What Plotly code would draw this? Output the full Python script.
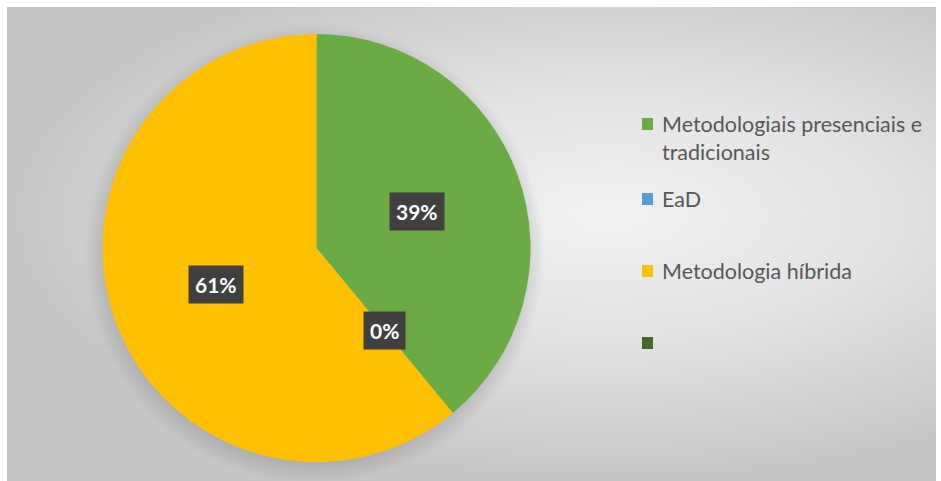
import math
import plotly.graph_objects as go

# Survey answers: share of respondents per teaching methodology
categories = ["Metodologiais presenciais e tradicionais", "EaD", "Metodologia híbrida", " "]
legend_labels = ["Metodologiais presenciais e<br>tradicionais", "EaD", "Metodologia híbrida", ""]
values = [39, 0, 61, 0]
colors = ["#6BAB45", "#5B9BD5", "#FFC000", "#43682B"]

W, H = 941, 481
# canvas frame (pixel units)
FRAME_X0, FRAME_X1, FRAME_Y0, FRAME_Y1 = 7, 936, 7, 481
# pie geometry (pixel units)
PIE_CX, PIE_CY, PIE_R = 316.5, 248, 214

fig = go.Figure()

# soft radial gradient background
gcx, gcy = 610, 215
hw, hh = gcx - FRAME_X0, FRAME_Y1 - gcy
fig.add_trace(go.Scatter(
    x=[gcx - hw, gcx + hw, gcx + hw, gcx - hw, gcx - hw],
    y=[gcy - hh, gcy - hh, gcy + hh, gcy + hh, gcy - hh],
    mode="lines", line=dict(width=0), fill="toself",
    fillgradient=dict(type="radial",
                      colorscale=[[0, "#f1f1f1"], [0.45, "#e3e3e3"], [1, "#c6c6c6"]]),
    hoverinfo="skip", showlegend=False,
))

# soft shadow under the pie
n = 180
sr = PIE_R + 16
sx = [PIE_CX - 2 + sr * math.cos(2 * math.pi * k / n) for k in range(n + 1)]
sy = [PIE_CY + 6 + sr * math.sin(2 * math.pi * k / n) for k in range(n + 1)]
fig.add_trace(go.Scatter(
    x=sx, y=sy, mode="lines", line=dict(width=0), fill="toself",
    fillgradient=dict(type="radial",
                      colorscale=[[0, "rgba(105,105,115,0.42)"], [0.88, "rgba(105,105,115,0.32)"],
                                  [1, "rgba(105,105,115,0)"]]),
    hoverinfo="skip", showlegend=False,
))

fig.add_trace(go.Pie(
    labels=categories, values=values, sort=False, direction="clockwise", rotation=0,
    marker=dict(colors=colors, line=dict(width=0)),
    textinfo="none", hoverinfo="label+percent", showlegend=False,
    domain=dict(x=[(PIE_CX - PIE_R) / W, (PIE_CX + PIE_R) / W],
                y=[1 - (PIE_CY + PIE_R) / H, 1 - (PIE_CY - PIE_R) / H]),
))

# percentage labels at the middle of each slice
total = sum(values)
cum = 0
annotations = []
for lab, v in zip(categories, values):
    if lab.strip():
        mid = (cum + v / 2) / total * 2 * math.pi
        ax = PIE_CX + 0.5 * PIE_R * math.sin(mid)
        ay = PIE_CY - 0.5 * PIE_R * math.cos(mid)
        annotations.append(dict(
            x=ax, y=ay, xref="x", yref="y", text=f"{round(v / total * 100)}%", showarrow=False,
            font=dict(family="Lato", size=21, color="white", weight="bold"),
            bgcolor="#3f403f", borderpad=6,
        ))
    cum += v

# legend panel
shapes = [dict(type="rect", xref="x", yref="y", x0=618, x1=936, y0=104, y1=394,
               fillcolor="rgba(255,255,255,0.36)", line=dict(width=0), layer="below")]
legend_y = [124, 199, 271, 343]
for lab, col, ly, multi in zip(legend_labels, colors, legend_y, [True, False, False, False]):
    shapes.append(dict(type="rect", xref="x", yref="y", x0=642, x1=653, y0=ly - 6, y1=ly + 6,
                       fillcolor=col, line=dict(width=0)))
    if lab:
        annotations.append(dict(
            x=660, y=ly - 15 if multi else ly, xref="x", yref="y", text=lab, showarrow=False,
            xanchor="left", yanchor="top" if multi else "middle", align="left",
            font=dict(family="Lato", size=21.5, color="#575757"),
        ))

fig.update_layout(
    width=W, height=H, margin=dict(l=0, r=0, t=0, b=0),
    paper_bgcolor="white", plot_bgcolor="rgba(0,0,0,0)",
    xaxis=dict(range=[FRAME_X0, FRAME_X1], domain=[FRAME_X0 / W, FRAME_X1 / W], visible=False, fixedrange=True),
    yaxis=dict(range=[FRAME_Y1, FRAME_Y0], domain=[1 - FRAME_Y1 / H, 1 - FRAME_Y0 / H], visible=False, fixedrange=True),
    annotations=annotations, shapes=shapes, showlegend=False,
)

fig.write_html("out.html")
